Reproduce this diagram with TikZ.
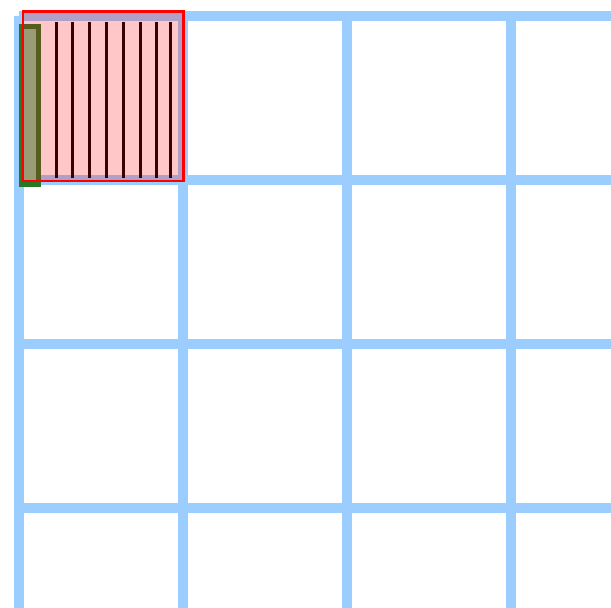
\documentclass[tikz,border=0pt]{standalone}
\definecolor{gridblue}{RGB}{155,205,255}
\definecolor{boxgreen}{RGB}{40,120,40}
\definecolor{boxgreenfill}{RGB}{125,200,150}
\begin{document}
\begin{tikzpicture}[x=1pt,y=-1pt,
  gridline/.style={draw=gridblue,line width=9.5pt,line cap=square},
  barline/.style={draw=black,line width=3pt},
  greenbox/.style={draw=boxgreen,fill=boxgreenfill,line width=5pt},
  redbox/.style={draw=red,line width=2.8pt,fill=red,fill opacity=0.22}]
\fill[white] (0,0) rectangle (611,608);
\useasboundingbox (0,0) rectangle (611,608);
\begin{scope}
\clip (0,0) rectangle (611,608);
\foreach \x in {19,183,347,511} \draw[gridline] (\x,16) -- (\x,640);
\foreach \y in {16,180,344,508} \draw[gridline] (19,\y) -- (640,\y);
\end{scope}
\foreach \x [count=\i] in {56,72.7,89.3,106.7,123.3,140,156.7,170}
  \draw[barline] (\x,22) coordinate (t\i) -- (\x,178) coordinate (b\i);
\node[greenbox,rectangle,inner sep=0pt,minimum width=17pt,minimum height=158pt,anchor=north west] (g) at (18.5,24) {};
\node[redbox,rectangle,inner sep=0pt,minimum width=160.5pt,minimum height=169.5pt,anchor=north west] (r) at (21.5,10) {};
\end{tikzpicture}
\end{document}
